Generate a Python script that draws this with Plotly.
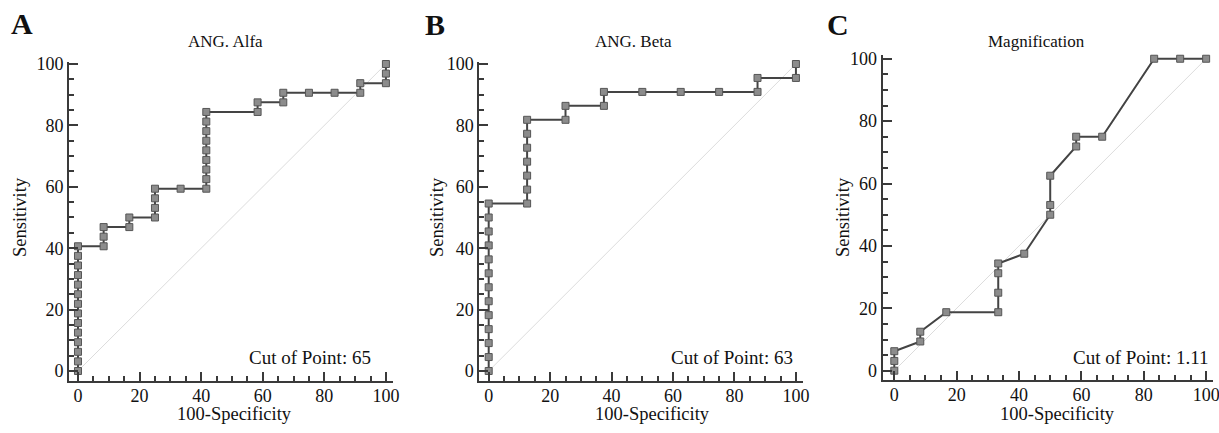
import plotly.graph_objects as go

# ---------------- data ----------------
titles = ["ANG. Alfa", "ANG. Beta", "Magnification"]
letters = ["A", "B", "C"]
cutoffs = ["Cut of Point: 65", "Cut of Point: 63", "Cut of Point: 1.11"]

alfa_x = [0]*14 + [8.33]*3 + [16.67]*2 + [25]*4 + [33.33] + [41.67]*9 + [58.33]*2 + [66.67]*2 + [75, 83.33] + [91.67]*2 + [100]*3
alfa_y = [0, 3.125, 6.25, 9.375, 12.5, 15.625, 18.75, 21.875, 25, 28.125, 31.25, 34.375, 37.5, 40.625,
          40.625, 43.75, 46.875,
          46.875, 50,
          50, 53.125, 56.25, 59.375,
          59.375,
          59.375, 62.5, 65.625, 68.75, 71.875, 75, 78.125, 81.25, 84.375,
          84.375, 87.5,
          87.5, 90.625,
          90.625, 90.625,
          90.625, 93.75,
          93.75, 96.875, 100]

beta_x = [0]*13 + [12.5]*7 + [25]*2 + [37.5]*2 + [50, 62.5, 75] + [87.5]*2 + [100]*2
beta_y = [0, 4.545, 9.091, 13.636, 18.182, 22.727, 27.273, 31.818, 36.364, 40.909, 45.455, 50, 54.545,
          54.545, 59.091, 63.636, 68.182, 72.727, 77.273, 81.818,
          81.818, 86.364,
          86.364, 90.909,
          90.909, 90.909, 90.909,
          90.909, 95.455,
          95.455, 100]

mag_x = [0, 0, 0, 8.33, 8.33, 16.67, 33.33, 33.33, 33.33, 33.33, 41.67, 50, 50, 50, 58.33, 58.33, 66.67, 83.33, 91.67, 100]
mag_y = [0, 3.125, 6.25, 9.375, 12.5, 18.75, 18.75, 25, 31.25, 34.375, 37.5, 50, 53.125, 62.5, 71.875, 75, 75, 100, 100, 100]

series_x = [alfa_x, beta_x, mag_x]
series_y = [alfa_y, beta_y, mag_y]
tick_vals = [0, 20, 40, 60, 80, 100]
tick_text = ["0", "20", "40", "60", "80", "100"]
diag = [0, 100]

# ---------------- layout helpers ----------------
W, H = 1219, 433
def px(x):
    return x / W
def py(y):
    return 1 - y / H

FONT = "Liberation Serif"
AXC = "#3a3a3a"

panels = [
    dict(xd=(69, 393), yd=(62, 381), xr=[-2.92, 102.3], yr=[-3.26, 100.65],
         title=(225, 42), letter=(22, 23), xt=(234, 414), yt=(20, 217), cut=(373, 357)),
    dict(xd=(479.3, 803), yd=(62, 381), xr=[-3.06, 102.3], yr=[-3.26, 100.65],
         title=(633, 42), letter=(435, 25), xt=(652, 414), yt=(437, 217), cut=(795, 357)),
    dict(xd=(882.7, 1213), yd=(55, 380), xr=[-3.72, 102.2], yr=[-2.98, 101.2],
         title=(1036, 42), letter=(838, 25), xt=(1057, 414), yt=(843, 217), cut=(1210, 357)),
]

fig = go.Figure()
annotations = []
for i, p in enumerate(panels):
    n = "" if i == 0 else str(i + 1)
    xa, ya = "x" + n, "y" + n
    fig.add_trace(go.Scatter(x=diag, y=diag, mode="lines", xaxis=xa, yaxis=ya,
                             line=dict(color="#dcdcdc", width=1), hoverinfo="skip", showlegend=False))
    fig.add_trace(go.Scatter(x=series_x[i], y=series_y[i], mode="lines+markers", xaxis=xa, yaxis=ya,
                             line=dict(color="#444444", width=2),
                             marker=dict(symbol="square", size=7, color="#8c8c8c",
                                         line=dict(color="#555555", width=1)),
                             showlegend=False, cliponaxis=False))
    common = dict(showline=True, linecolor=AXC, linewidth=2, ticks="inside", tickcolor=AXC,
                  tickwidth=2, ticklen=9, tickvals=tick_vals, ticktext=tick_text,
                  showgrid=False, zeroline=False, automargin=False, ticklabeloverflow="allow",
                  tickfont=dict(family=FONT, size=18, color="#111111"),
                  minor=dict(dtick=5, tick0=0, ticks="inside", ticklen=5, tickwidth=1.5, tickcolor=AXC, showgrid=False))
    fig.layout["xaxis" + n] = dict(domain=[px(p["xd"][0]), px(p["xd"][1])], range=p["xr"],
                                   anchor=ya, **common)
    fig.layout["yaxis" + n] = dict(domain=[py(p["yd"][1]), py(p["yd"][0])], range=p["yr"],
                                   anchor=xa, **common)
    try:
        fig.layout["xaxis" + n].ticklabelstandoff = -3
    except Exception:
        pass
    annotations += [
        dict(text=titles[i], x=px(p["title"][0]), y=py(p["title"][1]), xref="paper", yref="paper",
             showarrow=False, xanchor="center", yanchor="middle", font=dict(family=FONT, size=17, color="#111")),
        dict(text="<b>" + letters[i] + "</b>", x=px(p["letter"][0]), y=py(p["letter"][1]), xref="paper", yref="paper",
             showarrow=False, xanchor="center", yanchor="middle", font=dict(family=FONT, size=30, color="#111")),
        dict(text="100-Specificity", x=px(p["xt"][0]), y=py(p["xt"][1]), xref="paper", yref="paper",
             showarrow=False, xanchor="center", yanchor="middle", font=dict(family=FONT, size=18.5, color="#111")),
        dict(text="Sensitivity", x=px(p["yt"][0]), y=py(p["yt"][1]), xref="paper", yref="paper", textangle=-90,
             showarrow=False, xanchor="center", yanchor="middle", font=dict(family=FONT, size=18.5, color="#111")),
        dict(text=cutoffs[i], x=px(p["cut"][0]), y=py(p["cut"][1]), xref="paper", yref="paper",
             showarrow=False, xanchor="right", yanchor="middle", font=dict(family=FONT, size=19, color="#111")),
    ]

fig.update_layout(width=W, height=H, margin=dict(l=0, r=0, t=0, b=0, autoexpand=False),
                  paper_bgcolor="white", plot_bgcolor="white", annotations=annotations,
                  font=dict(family=FONT))
fig.write_html("out.html", config={"displayModeBar": False},
               post_script="document.body.style.margin='0px';document.body.style.overflow='hidden';")
